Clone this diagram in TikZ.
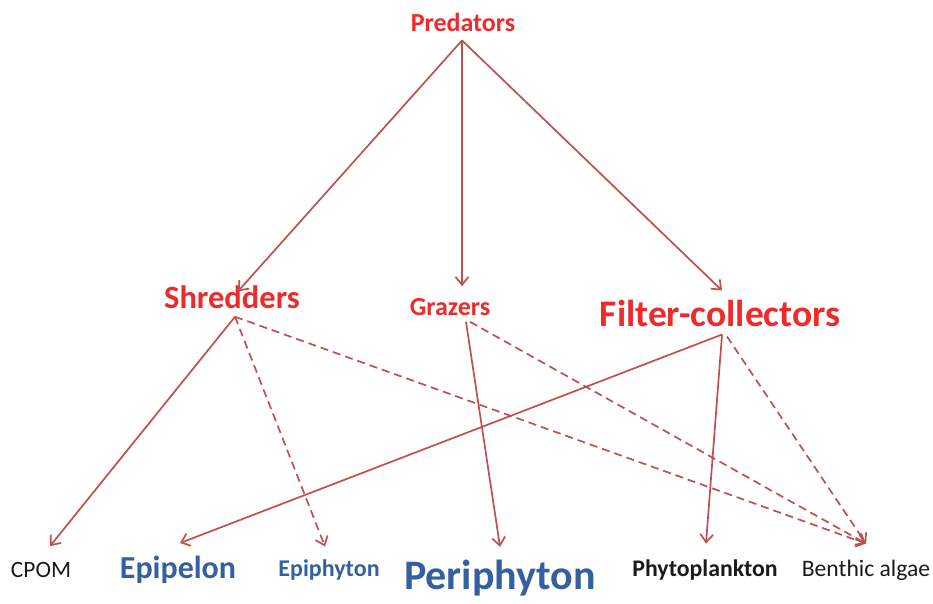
\documentclass[tikz,border=0pt]{standalone}
\usepackage{fontspec}
\setmainfont{Carlito}
\usepackage{tikz}
\usetikzlibrary{arrows.meta,positioning,calc}
\definecolor{linkred}{HTML}{C0504D}
\definecolor{taxred}{HTML}{EE2A2A}
\definecolor{algblue}{HTML}{3560A0}
\definecolor{srcblack}{HTML}{1A1A1A}

\begin{document}
\begin{tikzpicture}[
  x=1pt, y=-1pt,
  taxon/.style={inner sep=0pt, text=taxred, font=\bfseries},
  algae/.style={inner sep=0pt, text=algblue, font=\bfseries},
  source/.style={inner sep=0pt, text=srcblack},
  feed/.style={-{Straight Barb[length=8pt,width=13pt]}, draw=linkred, line width=1.7pt},
  weak/.style={feed, dash pattern=on 8pt off 5pt}
]
\useasboundingbox (0,0) rectangle (933,603);

\node[taxon] (pred) at (463,22) {\fontsize{26}{30}\selectfont Predators};
\node[taxon] (shred) at (232,297) {\fontsize{32.5}{36}\selectfont Shredders};
\node[taxon] (graz) at (450,307) {\fontsize{26}{30}\selectfont Grazers};
\node[taxon] (filt) at (720,313) {\fontsize{37.5}{40}\selectfont Filter-collectors};

\node[source] (cpom) at (41,570) {\fontsize{23.4}{26}\selectfont CPOM};
\node[algae] (epipel) at (178,570) {\fontsize{32}{36}\selectfont Epipelon};
\node[algae] (epiphy) at (329,570) {\fontsize{24}{28}\selectfont Epiphyton};
\node[algae] (periph) at (500,578) {\fontsize{42}{46}\selectfont Periphyton};
\node[source, font=\bfseries] (phyto) at (705,570) {\fontsize{23.8}{26}\selectfont Phytoplankton};
\node[source] (benth) at (866,570) {\fontsize{23.6}{26}\selectfont Benthic algae};

% predators eat the consumers
\draw[feed] ([xshift=-1pt,yshift=-9pt]pred.south) -- ([xshift=6pt,yshift=-6pt]shred.north);
\draw[feed] ([xshift=-1pt,yshift=-9pt]pred.south) -- ([xshift=12pt,yshift=12pt]graz.north);
\draw[feed] ([xshift=-1pt,yshift=-9pt]pred.south) -- ([xshift=2pt,yshift=9pt]filt.north);

% main food sources
\draw[feed] ([xshift=3pt,yshift=-8pt]shred.south) -- ([xshift=9pt,yshift=16pt]cpom.north);
\draw[feed] ([xshift=16pt,yshift=-6pt]graz.south) -- ([yshift=13pt]periph.north);
\draw[feed] ([xshift=2pt,yshift=-8pt]filt.south) -- ([xshift=2pt,yshift=13pt]epipel.north);
\draw[feed] ([xshift=2pt,yshift=-8pt]filt.south) -- ([xshift=1pt,yshift=16pt]phyto.north);

% minor food sources
\draw[weak] ([xshift=3pt,yshift=-8pt]shred.south) -- ([xshift=-4pt,yshift=13pt]epiphy.north);
\draw[weak] ([xshift=3pt,yshift=-8pt]shred.south) -- ([yshift=16pt]benth.north);
\draw[weak] ([xshift=20pt,yshift=-6pt]graz.south) -- ([yshift=16pt]benth.north);
\draw[weak] ([xshift=7pt,yshift=-10pt]filt.south) -- ([yshift=16pt]benth.north);
\end{tikzpicture}
\end{document}
